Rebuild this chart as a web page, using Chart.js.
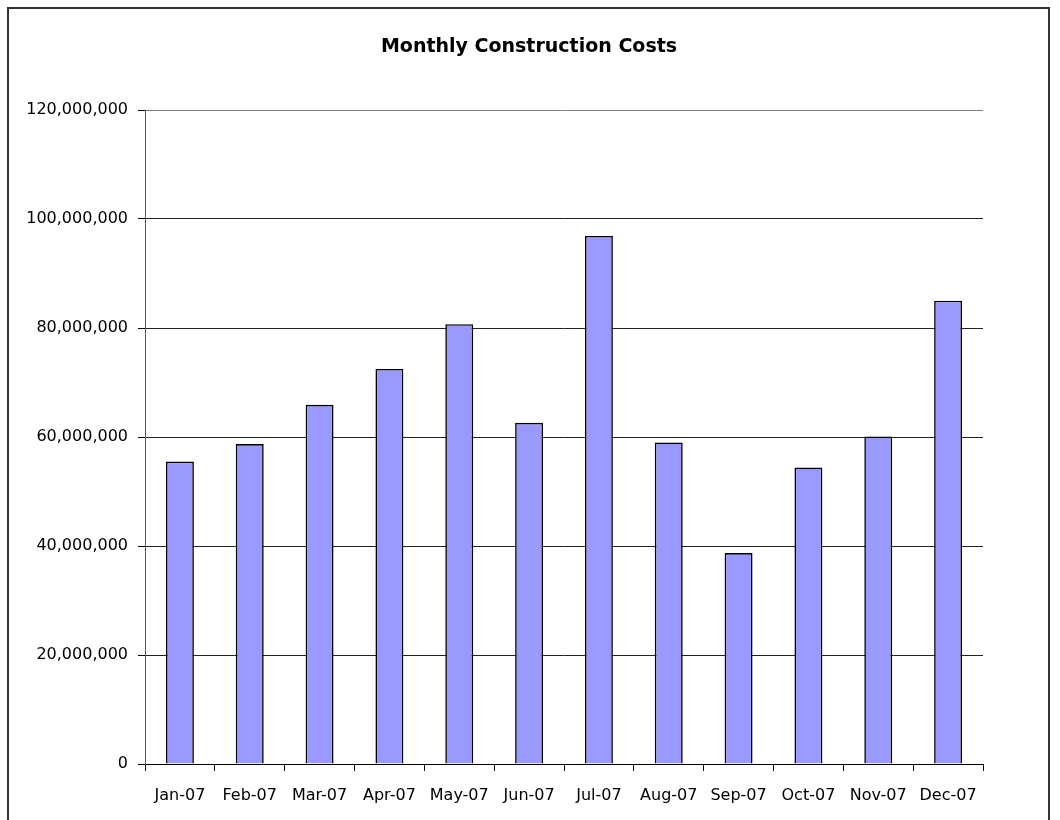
<!DOCTYPE html>
<html>
<head>
<meta charset="utf-8">
<script src="https://cdn.jsdelivr.net/npm/chart.js@4"></script>
<style>
  html, body { margin: 0; padding: 0; background: #fff; overflow: hidden; }
  #frame { position: absolute; left: 7px; top: 7px; width: 1043px; height: 900px;
           border: 2px solid #333; box-sizing: border-box; }
  #wrap { position: absolute; left: 0; top: 0; width: 1060px; height: 820px; }
</style>
</head>
<body>
<div id="frame"></div>
<div id="wrap"><canvas id="chart"></canvas></div>
<script>
// datos
const months = ['Jan-07', 'Feb-07', 'Mar-07', 'Apr-07', 'May-07', 'Jun-07',
                'Jul-07', 'Aug-07', 'Sep-07', 'Oct-07', 'Nov-07', 'Dec-07'];
const costs = [55500000, 58700000, 65900000, 72500000, 80700000, 62600000,
               96900000, 59000000, 38700000, 54400000, 60100000, 85000000];
const yMax = 120000000;
const yStep = 20000000;
const titleText = 'Monthly Construction Costs';

Chart.defaults.font.family = 'DejaVu Sans';
Chart.defaults.color = '#000';

// título centrado sobre el marco completo, no sobre el área del gráfico
const frameTitle = {
    id: 'frameTitle',
    afterDraw(chart) {
        const ctx = chart.ctx;
        ctx.save();
        ctx.font = 'bold 19px "DejaVu Sans"';
        ctx.fillStyle = '#000';
        ctx.textAlign = 'center';
        ctx.textBaseline = 'middle';
        ctx.fillText(titleText, 529, 47);
        ctx.restore();
    }
};

new Chart(document.getElementById('chart'), {
    type: 'bar',
    data: {
        labels: months,
        datasets: [{
            data: costs,
            backgroundColor: '#9999FF',
            borderColor: '#000',
            borderWidth: 1.6
        }]
    },
    options: {
        responsive: true,
        maintainAspectRatio: false,
        animation: false,
        barPercentage: 0.4,
        categoryPercentage: 1,
        layout: { padding: { left: 0, right: 77, top: 110, bottom: 0 } },
        plugins: {
            legend: { display: false },
            tooltip: { enabled: false },
            title: { display: false }
        },
        scales: {
            x: {
                afterFit: s => { s.height = 56; },
                grid: {
                    offset: true,
                    drawOnChartArea: true,
                    color: c => c.index === months.length ? '#808080' : 'rgba(0,0,0,0)',
                    tickColor: '#000',
                    tickLength: 7
                },
                border: { color: '#000' },
                ticks: { font: { size: 16 }, padding: 15, maxRotation: 0, autoSkip: false }
            },
            y: {
                min: 0,
                max: yMax,
                afterFit: s => { s.width = 145; },
                grid: {
                    color: c => c.tick && c.tick.value === yMax ? '#808080' : '#222',
                    tickColor: '#000',
                    tickLength: 7
                },
                border: { color: '#555' },
                ticks: {
                    stepSize: yStep,
                    padding: 10,
                    font: { size: 16 },
                    callback: v => v.toLocaleString('en-US')
                }
            }
        }
    },
    plugins: [frameTitle]
});
</script>
</body>
</html>
